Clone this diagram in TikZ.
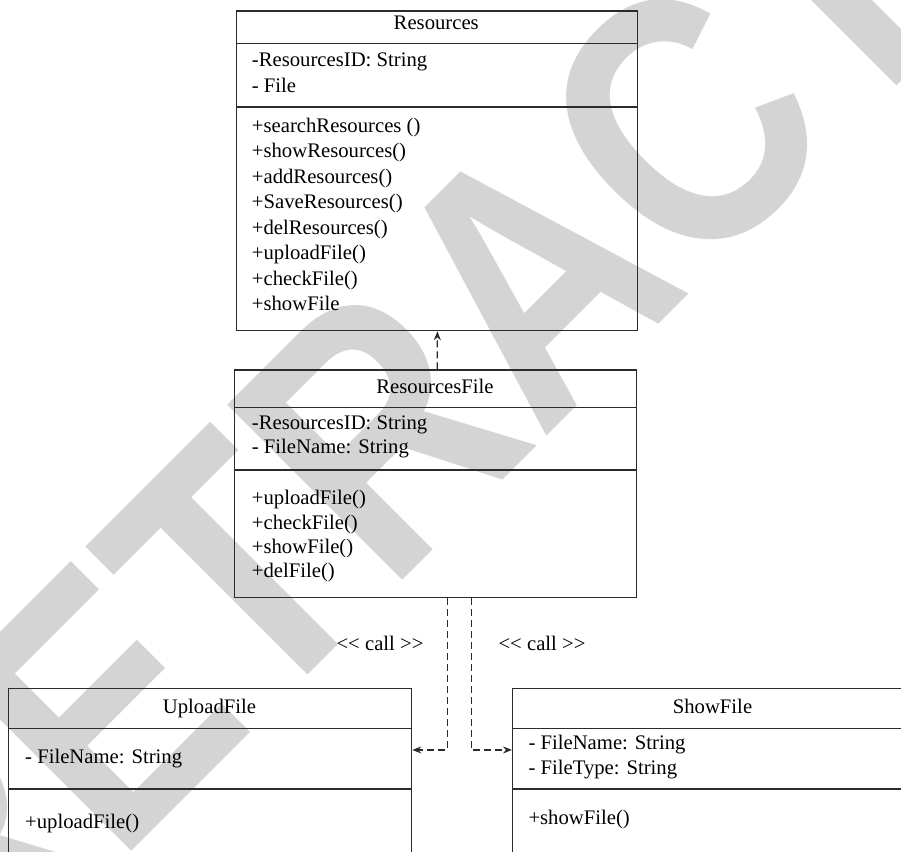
\documentclass[tikz,border=0pt]{standalone}
\usepackage{fontspec}
\setmainfont{Liberation Serif}
\newfontfamily\stampfont{Liberation Sans}
\usetikzlibrary{arrows.meta,positioning,calc}
\definecolor{stampgray}{HTML}{D4D4D4}
\definecolor{umlline}{HTML}{2B2B2B}
\tikzset{
  classbox/.style={draw=umlline,line width=1.3pt,inner sep=0pt,anchor=north west},
  classline/.style={draw=umlline,line width=1.3pt},
  member/.style={font=\fontsize{20.7}{25}\selectfont,inner sep=0pt,anchor=base west},
  classname/.style={member,anchor=base},
  dep/.style={draw=umlline,line width=1.2pt,dash pattern=on 7pt off 4pt,-{Stealth[length=9pt,width=7pt]}},
}

\begin{document}
\begin{tikzpicture}[x=1pt,y=-1pt]
  \useasboundingbox (0,0) rectangle (901,851);
  \clip (0,0) rectangle (901,851);
  % watermark behind the diagram
  \node[text=stampgray,font=\stampfont\bfseries\fontsize{360}{360}\selectfont,inner sep=0pt,
        anchor=base west,rotate=45,xscale=0.833] (stamp) at (-36,1019) {RETRACTED};

  % Resources
  \node[classbox,minimum width=401.5pt,minimum height=319.5pt] (res) at (235.5,10.5) {};
  \draw[classline] (235.5,43.5) -- (637,43.5) (235.5,107) -- (637,107);
  \node[classname] (res-name) at (436.25,29.7) {Resources};
  \foreach \t [count=\i from 0] in {-ResourcesID: String,- File}
    \node[member] (res-a\i) at (251.7,66.7+25.3*\i) {\t};
  \foreach \t [count=\i from 0] in {+searchResources (),+showResources(),+addResources(),+SaveResources(),+delResources(),+uploadFile(),+checkFile(),+showFile}
    \node[member] (res-m\i) at (251.7,132.4+25.5*\i) {\t};

  % ResourcesFile
  \node[classbox,minimum width=402pt,minimum height=227.4pt] (rf) at (234,369.3) {};
  \draw[classline] (234,407.7) -- (636,407.7) (234,470) -- (636,470);
  \node[classname] (rf-name) at (435,393) {ResourcesFile};
  \foreach \t [count=\i from 0] in {-ResourcesID: String,- FileName: String}
    \node[member] (rf-a\i) at (251.7,429+24.3*\i) {\t};
  \foreach \t [count=\i from 0] in {+uploadFile(),+checkFile(),+showFile(),+delFile()}
    \node[member] (rf-m\i) at (251.7,504.7+24.3*\i) {\t};

  % UploadFile
  \node[classbox,minimum width=403pt,minimum height=182pt] (up) at (8,688) {};
  \draw[classline] (8,728.3) -- (411,728.3) (8,789) -- (411,789);
  \node[classname] (up-name) at (209.5,713) {UploadFile};
  \node[member] (up-a0) at (25,763) {- FileName: String};
  \node[member] (up-m0) at (25,828) {+uploadFile()};

  % ShowFile
  \node[classbox,minimum width=401pt,minimum height=182pt] (sf) at (512,688) {};
  \draw[classline] (512,728.3) -- (913,728.3) (512,789) -- (913,789);
  \node[classname] (sf-name) at (712.5,713) {ShowFile};
  \foreach \t [count=\i from 0] in {- FileName: String,- FileType: String}
    \node[member] (sf-a\i) at (528.3,749.7+25*\i) {\t};
  \node[member] (sf-m0) at (528.3,824.7) {+showFile()};

  % dependencies
  \draw[dep] ([xshift=1.5pt]rf.north) -- ([xshift=0.5pt]res.south);
  \draw[dep] ([xshift=11.7pt]rf.south) |- ([yshift=29.7pt]up.east);
  \draw[dep] ([xshift=35.7pt]rf.south) |- ([yshift=29.7pt]sf.west);
  \node[member,anchor=base] (call-l) at (380,650.7) {<\kern0pt< call >\kern0pt>};
  \node[member,anchor=base] (call-r) at (542,650.7) {<\kern0pt< call >\kern0pt>};
\end{tikzpicture}
\end{document}
